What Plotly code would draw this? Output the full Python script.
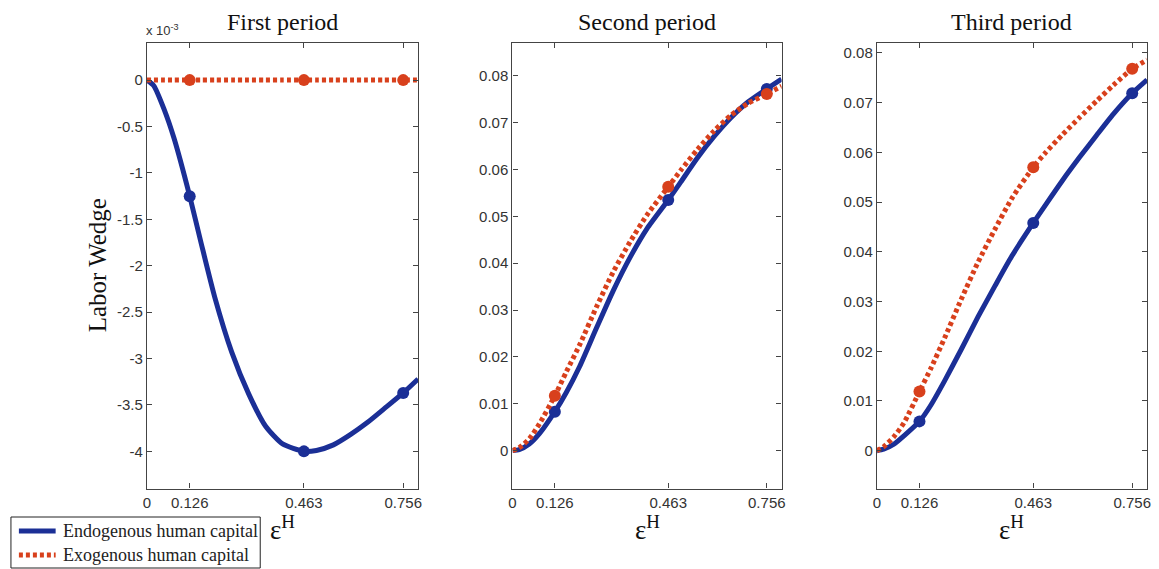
import plotly.graph_objects as go

# Grid of epsilon^H values
eps_grid = [0, 0.02, 0.05, 0.08, 0.126, 0.16, 0.2, 0.25, 0.3, 0.35, 0.4,
            0.463, 0.5, 0.55, 0.6, 0.65, 0.7, 0.756, 0.8]
marker_eps = [0.126, 0.463, 0.756]
tick_eps = [0, 0.126, 0.463, 0.756]

# Labor wedge, first period (units of 1e-3)
p1_endog_e3 = [0, -0.06, -0.31, -0.63, -1.25, -1.76, -2.34, -2.93, -3.38, -3.73,
               -3.92, -4.00, -3.99, -3.93, -3.82, -3.69, -3.54, -3.37, -3.22]
p1_exog_e3 = [0] * len(eps_grid)

# Labor wedge, second period
p2_endog = [0, 0.0002, 0.0014, 0.0036, 0.0083, 0.0124, 0.0180, 0.0262, 0.0342,
            0.0413, 0.0474, 0.0535, 0.0573, 0.0625, 0.0671, 0.0711, 0.0744, 0.0772, 0.0793]
p2_exog = [0, 0.0006, 0.0025, 0.0057, 0.0117, 0.0168, 0.0226, 0.0307, 0.0382,
           0.0446, 0.0503, 0.0563, 0.0598, 0.0643, 0.0683, 0.0716, 0.0741, 0.0761, 0.0778]

# Labor wedge, third period
p3_endog = [0, 0.0003, 0.0013, 0.0030, 0.0059, 0.0092, 0.0140, 0.0204, 0.0270,
            0.0332, 0.0392, 0.0458, 0.0495, 0.0544, 0.0590, 0.0634, 0.0677, 0.0719, 0.0746]
p3_exog = [0, 0.0008, 0.0028, 0.0056, 0.0119, 0.0166, 0.0226, 0.0305, 0.0380,
           0.0446, 0.0508, 0.0570, 0.0600, 0.0636, 0.0670, 0.0703, 0.0735, 0.0768, 0.0786]

titles = ["First period", "Second period", "Third period"]
series_names = ["Endogenous human capital", "Exogenous human capital"]

p1_yticks_e3 = [0, -0.5, -1, -1.5, -2, -2.5, -3, -3.5, -4]
p23_yticks = [0, 0.01, 0.02, 0.03, 0.04, 0.05, 0.06, 0.07, 0.08]

BLUE = "#1b2f96"
RED = "#d8401c"
RED_DASH = "4px,3px"
W, H = 1159, 569

panels = [
    dict(endog=[v * 1e-3 for v in p1_endog_e3], exog=[v * 1e-3 for v in p1_exog_e3],
         yrange=[-4.4e-3, 0.4e-3], yticks=[v * 1e-3 for v in p1_yticks_e3],
         ytext=[f"{v:g}" for v in p1_yticks_e3], xdom=[144, 417]),
    dict(endog=p2_endog, exog=p2_exog, yrange=[-0.0081, 0.087],
         yticks=p23_yticks, ytext=[f"{v:g}" for v in p23_yticks], xdom=[512, 783]),
    dict(endog=p3_endog, exog=p3_exog, yrange=[-0.0076, 0.082],
         yticks=p23_yticks, ytext=[f"{v:g}" for v in p23_yticks], xdom=[879, 1151]),
]

fig = go.Figure()
ydom = [1 - 488.5 / H, 1 - 43 / H]
tick_font = dict(family="Liberation Sans, Arial", size=15, color="#333333")
serif = "Liberation Serif, Times New Roman, serif"


def px_x(v):
    return v / W


def px_y(v):
    return 1 - v / H


for i, p in enumerate(panels):
    n = "" if i == 0 else str(i + 1)
    xa, ya = "x" + n, "y" + n
    idx = [eps_grid.index(m) for m in marker_eps]
    for key, color, dash, name in [("endog", BLUE, "solid", series_names[0]),
                                   ("exog", RED, RED_DASH, series_names[1])]:
        vals = p[key]
        fig.add_trace(go.Scatter(
            x=eps_grid, y=vals, mode="lines", name=name,
            line=dict(color=color, width=5, dash=dash, shape="spline", smoothing=0.6),
            showlegend=False, xaxis=xa, yaxis=ya))
        fig.add_trace(go.Scatter(
            x=marker_eps, y=[vals[j] for j in idx], mode="markers",
            marker=dict(color=color, size=12), showlegend=False,
            xaxis=xa, yaxis=ya))

    axis_common = dict(showline=True, linecolor="#444444", linewidth=1.3, mirror="ticks",
                       ticks="inside", ticklen=5, tickcolor="#444444",
                       showgrid=False, zeroline=False, tickfont=tick_font)
    fig.layout["xaxis" + n] = dict(
        domain=[px_x(p["xdom"][0]), px_x(p["xdom"][1])], range=[0, 0.8],
        tickvals=tick_eps, ticktext=[f"{v:g}" for v in tick_eps],
        anchor=ya, **axis_common)
    fig.layout["yaxis" + n] = dict(
        domain=ydom, range=p["yrange"], tickvals=p["yticks"], ticktext=p["ytext"],
        anchor=xa, **axis_common)

    cx = px_x((p["xdom"][0] + p["xdom"][1]) / 2)
    fig.add_annotation(text=titles[i], x=cx, y=px_y(22), xref="paper", yref="paper",
                       xanchor="center", yanchor="middle", showarrow=False,
                       font=dict(family=serif, size=24, color="#111111"))
    fig.add_annotation(text="ε<sup>H</sup>", x=cx, y=px_y(528), xref="paper", yref="paper",
                       xanchor="center", yanchor="middle", showarrow=False,
                       font=dict(family=serif, size=27, color="#111111"))

fig.add_annotation(text="x 10<sup>-3</sup>", x=px_x(141), y=px_y(30), xref="paper", yref="paper",
                   xanchor="left", yanchor="middle", showarrow=False,
                   font=dict(family="Liberation Sans, Arial", size=13, color="#333333"))
fig.add_annotation(text="Labor Wedge", x=px_x(94), y=px_y(265), xref="paper", yref="paper",
                   xanchor="center", yanchor="middle", textangle=-90, showarrow=False,
                   font=dict(family=serif, size=25, color="#111111"))

# Legend box with line samples
fig.add_shape(type="rect", xref="paper", yref="paper",
              x0=px_x(7), x1=px_x(258), y0=px_y(568), y1=px_y(517),
              line=dict(color="#222222", width=1), fillcolor="white")
for row, (name, color, dash) in enumerate([(series_names[0], BLUE, "solid"),
                                           (series_names[1], RED, RED_DASH)]):
    yc = 531 + row * 24
    fig.add_shape(type="line", xref="paper", yref="paper",
                  x0=px_x(15), x1=px_x(52), y0=px_y(yc), y1=px_y(yc),
                  line=dict(color=color, width=5, dash=dash))
    fig.add_annotation(text=name, x=px_x(57), y=px_y(yc), xref="paper", yref="paper",
                       xanchor="left", yanchor="middle", showarrow=False,
                       font=dict(family=serif, size=18, color="#222222"))

fig.update_layout(
    width=W, height=H, margin=dict(l=0, r=0, t=0, b=0),
    paper_bgcolor="white", plot_bgcolor="white", showlegend=False,
)

fig.write_html("out.html")
